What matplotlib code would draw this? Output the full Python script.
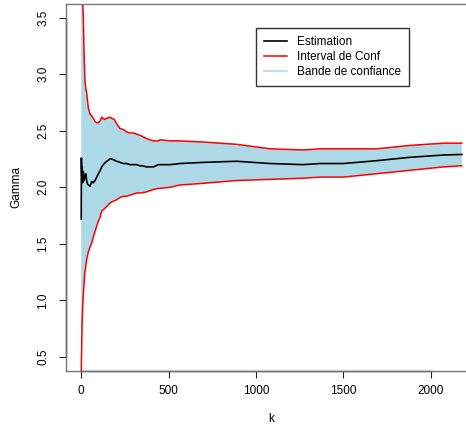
import matplotlib
matplotlib.use("Agg")
import matplotlib.pyplot as plt
import matplotlib.lines as mlines

plt.rcParams['font.family'] = ['Liberation Sans', 'DejaVu Sans']

# valeurs
k = [1, 2, 4, 6, 9, 13, 17, 22, 27, 32, 36, 42, 51, 61, 70, 80, 90, 99, 110, 118,
     133, 147, 165, 175, 190, 204, 223, 242, 261, 280, 300, 318, 337, 350, 375, 413,
     442, 451, 509, 565, 699, 889, 1080, 1270, 1366, 1500, 1690, 1880, 2070, 2176]

estim = [1.72, 2.26, 2.10, 2.18, 2.04, 2.14, 2.06, 2.09, 2.12, 2.06, 2.03, 2.02, 2.01, 2.05,
         2.04, 2.06, 2.09, 2.12, 2.15, 2.18, 2.21, 2.23, 2.25, 2.25, 2.24, 2.23, 2.22, 2.21,
         2.21, 2.20, 2.20, 2.20, 2.19, 2.19, 2.18, 2.18, 2.20, 2.20, 2.20, 2.21, 2.22, 2.23,
         2.21, 2.20, 2.21, 2.21, 2.235, 2.265, 2.285, 2.29]

sup = [5.00, 4.60, 4.20, 3.90, 3.65, 3.50, 3.20, 2.95, 2.87, 2.84, 2.78, 2.70, 2.65, 2.63,
       2.61, 2.58, 2.57, 2.57, 2.59, 2.62, 2.60, 2.61, 2.62, 2.61, 2.60, 2.56, 2.52, 2.51,
       2.49, 2.48, 2.48, 2.47, 2.46, 2.45, 2.43, 2.41, 2.41, 2.42, 2.41, 2.41, 2.40, 2.38,
       2.34, 2.33, 2.34, 2.34, 2.34, 2.37, 2.39, 2.39]

inf = [0.30, 0.45, 0.62, 0.80, 0.93, 1.05, 1.15, 1.25, 1.30, 1.36, 1.39, 1.43, 1.47, 1.51,
       1.56, 1.61, 1.66, 1.70, 1.74, 1.79, 1.81, 1.83, 1.86, 1.87, 1.88, 1.89, 1.91, 1.92,
       1.92, 1.93, 1.94, 1.95, 1.95, 1.95, 1.96, 1.98, 1.99, 1.99, 2.00, 2.02, 2.035, 2.06,
       2.07, 2.08, 2.09, 2.09, 2.12, 2.15, 2.18, 2.19]

xticks = [0, 500, 1000, 1500, 2000]
yticks = [0.5, 1.0, 1.5, 2.0, 2.5, 3.0, 3.5]

fig = plt.figure(figsize=(4.66, 4.30), dpi=100)
ax = fig.add_axes([66/466, 59/430, 411/466, 367/430])

ax.fill_between(k, inf, sup, color='lightblue', lw=0)
ax.plot(k, estim, color='black', lw=1.2)
ax.plot(k, sup, color='red', lw=1.1)
ax.plot(k, inf, color='red', lw=1.1)

ax.set_xlim(-86, 2263)
ax.set_ylim(0.376, 3.62)
ax.set_xticks(xticks)
ax.set_xticklabels([str(v) for v in xticks])
ax.set_yticks(yticks)
ax.set_yticklabels([f'{v:.1f}' for v in yticks])
ax.tick_params(axis='both', direction='out', length=5, width=0.8, labelsize=8.5, color='#222222')
ax.tick_params(axis='x', pad=5)
ax.tick_params(axis='y', pad=7)
plt.setp(ax.get_yticklabels(), rotation=90, va='center')

for s in ax.spines.values():
    s.set_color('#777777')
    s.set_linewidth(1.0)
# lignes d'axe comme dans R (de la premiere a la derniere graduation)
ax.plot([xticks[0], xticks[-1]], [0.376, 0.376], color='#222222', lw=1.0, clip_on=False)
ax.plot([-86, -86], [yticks[0], yticks[-1]], color='#222222', lw=1.0, clip_on=False)

ax.set_xlabel('k', fontsize=8.5)
ax.set_ylabel('Gamma', fontsize=8.5)
ax.xaxis.set_label_coords(205/411, -0.115)
ax.yaxis.set_label_coords(-0.105, 0.5)

handles = [mlines.Line2D([], [], color='black', lw=1.2),
           mlines.Line2D([], [], color='red', lw=1.1),
           mlines.Line2D([], [], color='lightblue', lw=1.1)]
labels = ['Estimation', 'Interval de Conf', 'Bande de confiance']
leg = ax.legend(handles, labels,
                loc='upper left', bbox_to_anchor=(256/466, 1 - 28/430),
                bbox_transform=fig.transFigure, fontsize=8.5, frameon=True,
                fancybox=False, edgecolor='#333333', framealpha=1,
                handlelength=1.95, handletextpad=0.8, labelspacing=0.25,
                borderpad=0.7, borderaxespad=0)
leg.get_frame().set_linewidth(1.0)

fig.savefig('out.png', dpi=100)
